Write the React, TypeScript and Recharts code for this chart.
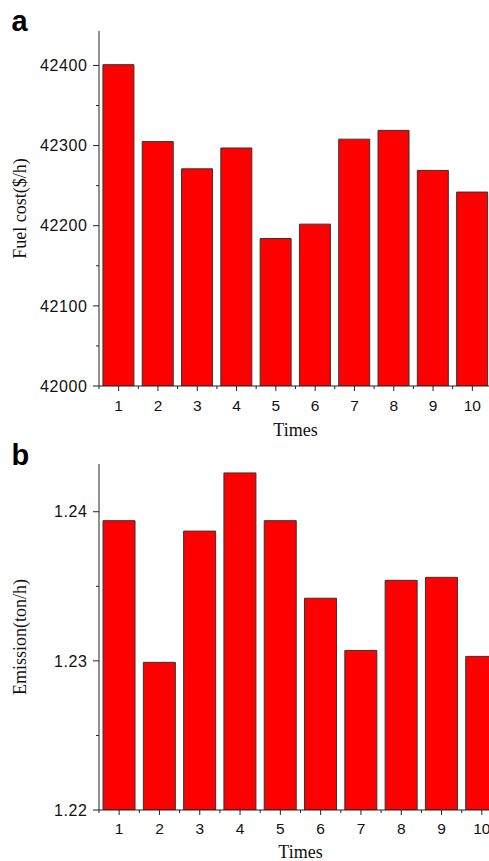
import { BarChart, Bar, XAxis, YAxis } from 'recharts';

// Data
const times = ['1', '2', '3', '4', '5', '6', '7', '8', '9', '10'];
const fuelCost = [42401, 42305, 42271, 42297, 42184, 42202, 42308, 42319, 42269, 42242];
const emission = [1.2394, 1.2299, 1.2387, 1.2426, 1.2394, 1.2342, 1.2307, 1.2354, 1.2356, 1.2303];

const fuelMajorTicks = [42000, 42100, 42200, 42300, 42400];
const fuelMinorTicks = [42050, 42150, 42250, 42350];
const emissionMajorTicks = [1.22, 1.23, 1.24];
const emissionMinorTicks = [1.225, 1.235];

const fuelData = times.map((t, i) => ({ time: t, value: fuelCost[i] }));
const emissionData = times.map((t, i) => ({ time: t, value: emission[i] }));

const SANS = '"Liberation Sans", Arial, sans-serif';
const SERIF = '"Liberation Serif", "Times New Roman", serif';
const AXIS = '#222';

// y ticks: long tick + label for major values, short tick for minor ones
const makeYTick = (major: number[], fmt: (v: number) => string) => (props: any) => {
  const { x, y, payload } = props;
  const isMajor = major.some((m) => Math.abs(m - payload.value) < 1e-9);
  return (
    <g>
      <line x1={x - (isMajor ? 6 : 3)} y1={y} x2={x} y2={y} stroke={AXIS} strokeWidth={1} />
      {isMajor && (
        <text
          x={x - 11.5}
          y={y}
          dy="0.36em"
          textAnchor="end"
          fontFamily={SANS}
          fontSize={16}
          letterSpacing={0.6}
          fill="#111"
        >
          {fmt(payload.value)}
        </text>
      )}
    </g>
  );
};

// x ticks: major at the bar centre, minor at category boundaries
const makeXTick = (band: number, labelDy: number) => (props: any) => {
  const { x, y, payload, index } = props;
  return (
    <g>
      <line x1={x} y1={y} x2={x} y2={y + 5} stroke={AXIS} strokeWidth={1} />
      <line x1={x - band / 2} y1={y} x2={x - band / 2} y2={y + 3} stroke={AXIS} strokeWidth={1} />
      {index === times.length - 1 && (
        <line x1={x + band / 2} y1={y} x2={x + band / 2} y2={y + 3} stroke={AXIS} strokeWidth={1} />
      )}
      <text x={x} y={y + labelDy} textAnchor="middle" fontFamily={SANS} fontSize={15.5} fill="#111">
        {payload.value}
      </text>
    </g>
  );
};

const YTitle = ({ text, cx, cy }: { text: string; cx: number; cy: number }) => (
  <text
    x={cx}
    y={cy}
    transform={`rotate(-90 ${cx} ${cy})`}
    textAnchor="middle"
    fontFamily={SERIF}
    fontSize={18}
    fill="#111"
  >
    {text}
  </text>
);

const XTitle = ({ text, cx, cy }: { text: string; cx: number; cy: number }) => (
  <text x={cx} y={cy} textAnchor="middle" fontFamily={SERIF} fontSize={18} fill="#111">
    {text}
  </text>
);

export default function App() {
  const W = 510;
  const axisW = 99;

  // panel a layout
  const aTop = 31;
  const aPlotH = 355;
  const aRight = 18;
  const aPlotW = W - axisW - aRight;

  // panel b layout
  const bTop = 24;
  const bPlotH = 346;
  const bRight = 8;
  const bPlotW = W - axisW - bRight;

  return (
    <div
      style={{
        position: 'absolute',
        left: 0,
        top: 0,
        width: 489,
        height: 861,
        overflow: 'hidden',
        background: '#fff',
      }}
    >
      <div style={{ position: 'absolute', left: 0, top: 0 }}>
        <BarChart
          width={W}
          height={440}
          data={fuelData}
          margin={{ top: aTop, right: aRight, bottom: 0, left: 0 }}
          barCategoryGap="10%"
        >
          <XAxis
            dataKey="time"
            height={440 - aTop - aPlotH}
            interval={0}
            axisLine={{ stroke: AXIS, strokeWidth: 1 }}
            tickLine={false}
            tickSize={0}
            tickMargin={0}
            tick={makeXTick(aPlotW / times.length, 25)}
            label={<XTitle text="Times" cx={axisW + aPlotW / 2} cy={aTop + aPlotH + 50} />}
          />
          <YAxis
            type="number"
            width={axisW}
            domain={[42000, 42443]}
            allowDataOverflow
            ticks={[...fuelMajorTicks, ...fuelMinorTicks].sort((p, q) => p - q)}
            interval={0}
            axisLine={{ stroke: AXIS, strokeWidth: 1 }}
            tickLine={false}
            tickSize={0}
            tickMargin={0}
            tick={makeYTick(fuelMajorTicks, (v) => String(v))}
            label={<YTitle text="Fuel cost($/h)" cx={26} cy={aTop + aPlotH / 2} />}
          />
          <Bar dataKey="value" fill="#ff0000" stroke="#333" strokeWidth={1} isAnimationActive={false} />
        </BarChart>
      </div>

      <div style={{ position: 'absolute', left: 0, top: 440 }}>
        <BarChart
          width={W}
          height={421}
          data={emissionData}
          margin={{ top: bTop, right: bRight, bottom: 0, left: 0 }}
          barCategoryGap="10%"
        >
          <XAxis
            dataKey="time"
            height={421 - bTop - bPlotH}
            interval={0}
            axisLine={{ stroke: AXIS, strokeWidth: 1 }}
            tickLine={false}
            tickSize={0}
            tickMargin={0}
            tick={makeXTick(bPlotW / times.length, 24)}
            label={<XTitle text="Times" cx={axisW + bPlotW / 2} cy={bTop + bPlotH + 47.5} />}
          />
          <YAxis
            type="number"
            width={axisW}
            domain={[1.22, 1.2432]}
            allowDataOverflow
            ticks={[...emissionMajorTicks, ...emissionMinorTicks].sort((p, q) => p - q)}
            interval={0}
            axisLine={{ stroke: AXIS, strokeWidth: 1 }}
            tickLine={false}
            tickSize={0}
            tickMargin={0}
            tick={makeYTick(emissionMajorTicks, (v) => v.toFixed(2))}
            label={<YTitle text="Emission(ton/h)" cx={26} cy={bTop + bPlotH / 2} />}
          />
          <Bar dataKey="value" fill="#ff0000" stroke="#333" strokeWidth={1} isAnimationActive={false} />
        </BarChart>
      </div>

      <svg
        width={489}
        height={861}
        style={{ position: 'absolute', left: 0, top: 0, pointerEvents: 'none' }}
      >
        <text x={11.5} y={31} fontFamily={SANS} fontWeight="bold" fontSize={29} fill="#000">
          a
        </text>
        <text x={11.5} y={465} fontFamily={SANS} fontWeight="bold" fontSize={29} fill="#000">
          b
        </text>
      </svg>
    </div>
  );
}
